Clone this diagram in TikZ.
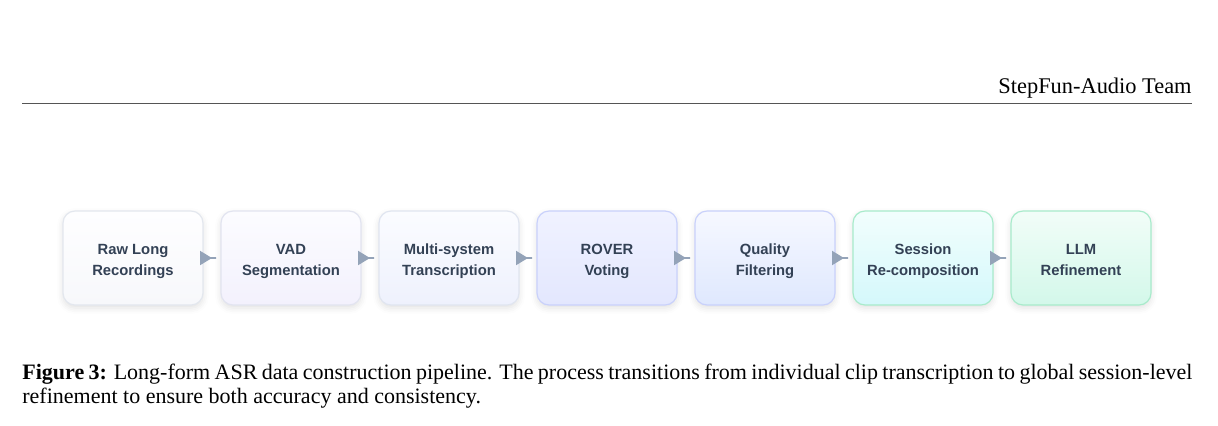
\documentclass[tikz,border=0pt]{standalone}
\usepackage{fontspec}
\setmainfont{Liberation Serif}
\newfontfamily\stagefont{Liberation Sans}
\usetikzlibrary{positioning,arrows.meta,shadows.blur}

\definecolor{stagetext}{HTML}{334155}
\definecolor{flowgray}{HTML}{94A3B8}
\definecolor{rulegray}{HTML}{555555}
% stage borders and shading (top / bottom)
\definecolor{rawline}{HTML}{E3E7EE}\definecolor{rawtop}{HTML}{FEFEFF}\definecolor{rawbot}{HTML}{F7F8FB}
\definecolor{vadline}{HTML}{E2E4F0}\definecolor{vadtop}{HTML}{FCFCFF}\definecolor{vadbot}{HTML}{F3F1FD}
\definecolor{multiline}{HTML}{E0E5F0}\definecolor{multitop}{HTML}{FBFCFF}\definecolor{multibot}{HTML}{EEF1FD}
\definecolor{roverline}{HTML}{C9D1FB}\definecolor{rovertop}{HTML}{F0F2FF}\definecolor{roverbot}{HTML}{E3E7FE}
\definecolor{qualline}{HTML}{C9D1FB}\definecolor{qualtop}{HTML}{F6F8FF}\definecolor{qualbot}{HTML}{DFE8FE}
\definecolor{sessline}{HTML}{A8EBCB}\definecolor{sesstop}{HTML}{F2FEFD}\definecolor{sessbot}{HTML}{D4F8FB}
\definecolor{llmline}{HTML}{A8EBCB}\definecolor{llmtop}{HTML}{F2FDF8}\definecolor{llmbot}{HTML}{D3F8EA}

% two lines of a stage, pushed a little below the middle
\newcommand\stagelines[2]{\rule{0pt}{10.5pt}#1\\#2\strut}

\tikzset{
  stage/.style={draw, rounded corners=6pt, line width=.6pt, outer sep=0pt,
    minimum width=70pt, minimum height=47pt, inner sep=2pt, align=center,
    text=stagetext, font=\stagefont\bfseries\fontsize{7.4}{10.5}\selectfont,
    blur shadow={shadow xshift=0pt, shadow yshift=-1.5pt,
      shadow blur radius=3pt, shadow opacity=12}},
  flow/.style={draw=flowgray, line width=1pt,
    -{Triangle[length=6pt,width=7pt,sep=0pt]Rectangle[length=2.5pt,width=1pt,sep=0pt]},
    shorten >=2pt},
}

\begin{document}
\begin{tikzpicture}[x=.5pt,y=-.5pt]
\useasboundingbox (0,0) rectangle (1218,425);

% running head
\node[anchor=base east, font=\fontsize{11.2}{13}\selectfont, inner sep=0pt] (head) at (1192,93) {StepFun-Audio Team};
\draw[rulegray, line width=.5pt] (22,103) -- (1192,103);

% pipeline
\node[stage, draw=rawline, top color=rawtop, bottom color=rawbot] (raw) at (133,258) {\stagelines{Raw Long}{Recordings}};
\node[stage, right=9pt of raw, draw=vadline, top color=vadtop, bottom color=vadbot] (vad) {\stagelines{VAD}{Segmentation}};
\node[stage, right=9pt of vad, draw=multiline, top color=multitop, bottom color=multibot] (multi) {\stagelines{Multi-system}{Transcription}};
\node[stage, right=9pt of multi, draw=roverline, top color=rovertop, bottom color=roverbot] (rover) {\stagelines{ROVER}{Voting}};
\node[stage, right=9pt of rover, draw=qualline, top color=qualtop, bottom color=qualbot] (quality) {\stagelines{Quality}{Filtering}};
\node[stage, right=9pt of quality, draw=sessline, top color=sesstop, bottom color=sessbot] (session) {\stagelines{Session}{Re-composition}};
\node[stage, right=9pt of session, draw=llmline, top color=llmtop, bottom color=llmbot] (llm) {\stagelines{LLM}{Refinement}};

\draw[flow] (raw) -- (vad);
\draw[flow] (vad) -- (multi);
\draw[flow] (multi) -- (rover);
\draw[flow] (rover) -- (quality);
\draw[flow] (quality) -- (session);
\draw[flow] (session) -- (llm);

% caption
\node[anchor=north west, inner sep=0pt, text width=585pt, align=justify,
  font=\fontsize{11}{12}\selectfont] (caption) at (22,364)
  {\textbf{Figure 3:} Long-form ASR data construction pipeline. The process transitions from individual clip transcription to global session-level refinement to ensure both accuracy and consistency.};

\end{tikzpicture}
\end{document}
